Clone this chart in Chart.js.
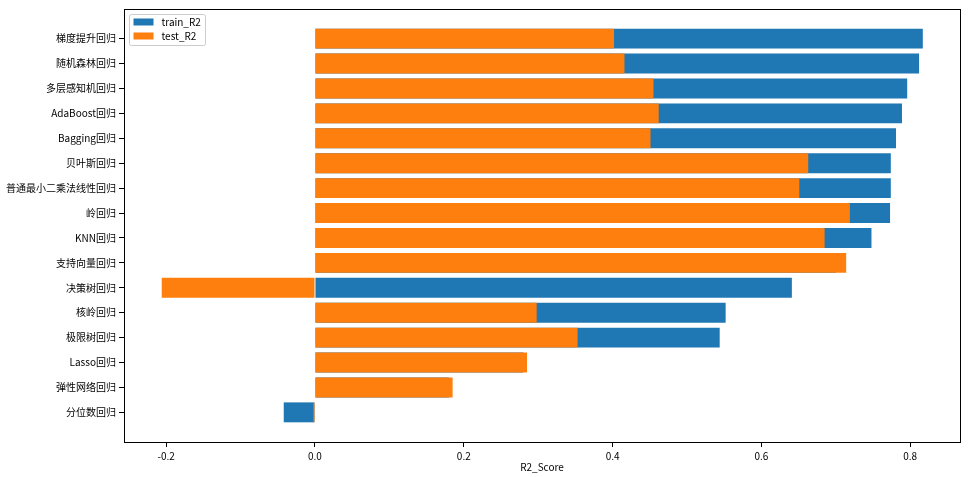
<!DOCTYPE html>
<html>
<head>
<meta charset="utf-8">
<script src="https://cdn.jsdelivr.net/npm/chart.js@4"></script>
<style>
  html, body { margin: 0; padding: 0; background: #fff; }
  canvas { display: block; }
</style>
</head>
<body>
<canvas id="chart" width="968" height="477"></canvas>
<script>
// categorias de arriba hacia abajo
const categories = ['梯度提升回归', '随机森林回归', '多层感知机回归', 'AdaBoost回归', 'Bagging回归', '贝叶斯回归',
  '普通最小二乘法线性回归', '岭回归', 'KNN回归', '支持向量回归', '决策树回归', '核岭回归', '极限树回归',
  'Lasso回归', '弹性网络回归', '分位数回归'];
const trainR2 = [0.817, 0.812, 0.796, 0.789, 0.781, 0.774, 0.774, 0.773, 0.748, 0.70, 0.641, 0.552, 0.544, 0.28, 0.18, -0.042];
const testR2 = [0.402, 0.416, 0.455, 0.462, 0.451, 0.663, 0.651, 0.719, 0.685, 0.714, -0.206, 0.298, 0.353, 0.285, 0.185, -0.002];
const xTicks = [-0.2, 0.0, 0.2, 0.4, 0.6, 0.8];

const FONT = '"Noto Sans CJK SC", "DejaVu Sans", sans-serif';
const BLUE = '#1f77b4';
const ORANGE = '#ff7f0e';

// marco completo (cuatro lados) como en matplotlib
const framePlugin = {
  id: 'frame',
  afterDraw(chart) {
    const { ctx, chartArea: a } = chart;
    ctx.save();
    ctx.strokeStyle = '#000';
    ctx.lineWidth = 1;
    ctx.strokeRect(Math.round(a.left) + 0.5, Math.round(a.top) + 0.5,
      Math.round(a.right - a.left), Math.round(a.bottom - a.top));
    ctx.restore();
  }
};

// leyenda dentro del area, arriba a la izquierda
const legendPlugin = {
  id: 'innerLegend',
  afterDraw(chart) {
    const { ctx, chartArea: a } = chart;
    const x = a.left + 5.5, y = a.top + 5.5;
    ctx.save();
    ctx.fillStyle = 'rgba(255,255,255,0.8)';
    ctx.strokeStyle = '#cccccc';
    ctx.lineWidth = 1;
    ctx.beginPath();
    ctx.roundRect(x, y, 76, 31, 2);
    ctx.fill();
    ctx.stroke();
    const items = [['train_R2', BLUE], ['test_R2', ORANGE]];
    items.forEach(([label, color], i) => {
      const cy = y + 8 + i * 14;
      ctx.fillStyle = color;
      ctx.fillRect(x + 4, cy - 4, 20, 7);
      ctx.fillStyle = '#000';
      ctx.font = '10px ' + FONT;
      ctx.textBaseline = 'middle';
      ctx.fillText(label, x + 32, cy);
    });
    ctx.restore();
  }
};

const toPoints = arr => arr.map((v, i) => ({ x: v, y: i }));

new Chart(document.getElementById('chart'), {
  type: 'bar',
  data: {
    datasets: [
      { label: 'train_R2', data: toPoints(trainR2), backgroundColor: BLUE, order: 2 },
      { label: 'test_R2', data: toPoints(testR2), backgroundColor: ORANGE, order: 1 }
    ]
  },
  options: {
    indexAxis: 'y',
    responsive: false,
    animation: false,
    devicePixelRatio: 1,
    grouped: false,
    categoryPercentage: 1,
    barPercentage: 0.8,
    layout: { padding: { top: 7, right: 8, left: 0, bottom: 0 } },
    scales: {
      x: {
        type: 'linear',
        min: -0.2567,
        max: 0.867,
        offset: false,
        afterFit: s => { s.height = 35; },
        afterBuildTicks: s => { s.ticks = xTicks.map(v => ({ value: v })); },
        border: { display: false },
        grid: { display: true, offset: false, drawOnChartArea: false, drawTicks: true, tickLength: 5, color: '#000' },
        ticks: {
          color: '#000',
          font: { family: FONT, size: 10 },
          padding: 3,
          maxRotation: 0,
          callback: v => v.toFixed(1)
        },
        title: { display: true, text: 'R2_Score', color: '#000', font: { family: FONT, size: 10 }, padding: { top: 2, bottom: 4 } }
      },
      y: {
        type: 'linear',
        reverse: true,
        min: -1.19,
        max: 16.19,
        offset: false,
        afterFit: s => { s.width = 124; },
        afterBuildTicks: s => { s.ticks = categories.map((_, i) => ({ value: i })); },
        border: { display: false },
        grid: { display: true, offset: false, drawOnChartArea: false, drawTicks: true, tickLength: 5, color: '#000' },
        ticks: {
          color: '#000',
          font: { family: FONT, size: 10 },
          padding: 3,
          autoSkip: false,
          callback: v => categories[v]
        }
      }
    },
    plugins: {
      legend: { display: false },
      tooltip: { enabled: false }
    }
  },
  plugins: [framePlugin, legendPlugin]
});
</script>
</body>
</html>
